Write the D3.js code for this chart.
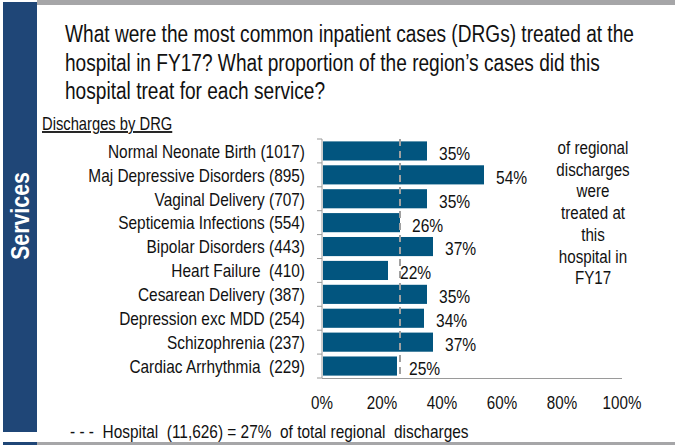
<!DOCTYPE html>
<html>
<head>
<meta charset="utf-8">
<script src="https://cdn.jsdelivr.net/npm/d3@7"></script>
<style>
  body { margin: 0; background: #fff; }
  svg text { font-family: "Liberation Sans", Arial, sans-serif; fill: #111; white-space: pre; }
</style>
</head>
<body>
<svg id="chart" width="675" height="445"></svg>
<script>
// data
const drgs = ["Normal Neonate Birth (1017)", "Maj Depressive Disorders (895)", "Vaginal Delivery (707)",
  "Septicemia Infections (554)", "Bipolar Disorders (443)", "Heart Failure  (410)",
  "Cesarean Delivery (387)", "Depression exc MDD (254)", "Schizophrenia (237)", "Cardiac Arrhythmia  (229)"];
const shares = [35, 54, 35, 26, 37, 22, 35, 34, 37, 25];
const xTicks = [0, 20, 40, 60, 80, 100];
const hospitalLine = 26;
const titleLines = ["What were the most common inpatient cases (DRGs) treated at the",
  "hospital in FY17? What proportion of the region\u2019s cases did this",
  "hospital treat for each service?"];
const noteLines = ["of regional", "discharges", "were", "treated at", "this", "hospital in", "FY17"];

// the original font is a narrow Arial; squeeze Liberation Sans to match
const SX = 0.82;
function at(px, py){ return "translate(" + px + "," + py + ") scale(" + SX + ",1)"; }

const svg = d3.select("#chart");

// frame pieces
svg.append("rect").attr("x", 37).attr("y", 0).attr("width", 638).attr("height", 5).attr("fill", "#a6a6a8");
svg.append("rect").attr("x", 3).attr("y", 2).attr("width", 34).attr("height", 430).attr("fill", "#1f4677");
svg.append("rect").attr("x", 37).attr("y", 442).attr("width", 638).attr("height", 3).attr("fill", "#a6a6a8");
svg.append("rect").attr("x", 3).attr("y", 442).attr("width", 34).attr("height", 3).attr("fill", "#1f4677");

svg.append("text")
  .attr("transform", "translate(29,216) rotate(-90) scale(" + SX + ",1)")
  .attr("text-anchor", "middle")
  .style("fill", "#fff").style("font-weight", "bold").style("font-size", "26px")
  .text("Services");

svg.append("g").selectAll("text")
  .data(titleLines)
  .enter()
  .append("text")
  .attr("transform", function(d, i){ return at(65, 42 + i * 28.5); })
  .style("font-size", "23.3px")
  .text(function(d){ return d; });

svg.append("text")
  .attr("transform", at(42, 130))
  .style("font-size", "18px")
  .style("text-decoration", "underline")
  .text("Discharges by DRG");

var x = d3.scaleLinear().domain([0, 100]).range([322, 622]);
var y = d3.scaleBand().domain(drgs).range([139, 378]).paddingInner(0.2).paddingOuter(0.1);

// y axis with ticks on band boundaries
var ax = svg.append("g").attr("stroke", "#9a9a9a");
ax.append("line").attr("x1", 322).attr("x2", 322).attr("y1", 139).attr("y2", 378);
ax.append("line").attr("x1", 322).attr("x2", 622).attr("y1", 378.5).attr("y2", 378.5);
ax.selectAll("line.tk")
  .data(d3.range(drgs.length + 1))
  .enter()
  .append("line")
  .attr("class", "tk")
  .attr("x1", 317).attr("x2", 322)
  .attr("y1", function(d){ return 139 + d * (239 / drgs.length); })
  .attr("y2", function(d){ return 139 + d * (239 / drgs.length); });

svg.append("g").selectAll("text")
  .data(drgs)
  .enter()
  .append("text")
  .attr("transform", function(d){ return at(305, y(d) + y.bandwidth() / 2); })
  .attr("dy", "0.36em")
  .attr("text-anchor", "end")
  .style("font-size", "18.8px")
  .text(function(d){ return d; });

svg.append("g").selectAll("rect")
  .data(shares)
  .enter()
  .append("rect")
  .attr("x", x(0) + 1)
  .attr("y", function(d, i){ return y(drgs[i]); })
  .attr("width", function(d){ return x(d) - x(0) - 1; })
  .attr("height", y.bandwidth())
  .attr("fill", "#02557f");

svg.append("line")
  .attr("x1", x(hospitalLine)).attr("x2", x(hospitalLine))
  .attr("y1", 139).attr("y2", 378)
  .attr("stroke", "#a0a0a0").attr("stroke-width", 2)
  .attr("stroke-dasharray", "7,5");

svg.append("g").selectAll("text")
  .data(shares)
  .enter()
  .append("text")
  .attr("transform", function(d, i){ return at(x(d) + 12, y(drgs[i]) + y.bandwidth() / 2 + 2); })
  .attr("dy", "0.36em")
  .style("font-size", "19px")
  .text(function(d){ return d + "%"; });

svg.append("g").selectAll("text")
  .data(xTicks)
  .enter()
  .append("text")
  .attr("transform", function(d){ return at(x(d), 409); })
  .attr("text-anchor", "middle")
  .style("font-size", "18.5px")
  .text(function(d){ return d + "%"; });

svg.append("g").selectAll("text")
  .data(noteLines)
  .enter()
  .append("text")
  .attr("transform", function(d, i){ return at(593, 154 + i * 21.7); })
  .attr("text-anchor", "middle")
  .style("font-size", "18.5px")
  .text(function(d){ return d; });

svg.append("text")
  .attr("transform", at(70, 438))
  .style("font-size", "18.8px")
  .text("- - -  Hospital  (11,626) = 27%  of total regional  discharges");
</script>
</body>
</html>
